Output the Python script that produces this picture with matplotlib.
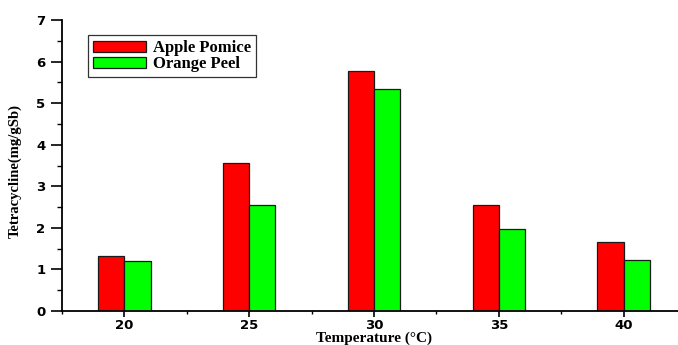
import numpy as np
import matplotlib
matplotlib.use("Agg")
import matplotlib.pyplot as plt
from matplotlib.ticker import MultipleLocator

# tetracycline uptake vs temperature
temperatures = [20, 25, 30, 35, 40]
apple_pomice = [1.33, 3.57, 5.78, 2.56, 1.67]
orange_peel = [1.21, 2.56, 5.35, 1.98, 1.23]

SERIES = [
    ("Apple Pomice", apple_pomice, "#FF0000"),
    ("Orange Peel", orange_peel, "#00FF00"),
]

BAR_W = 1.05
TICK_FONT = "DejaVu Sans"
SERIF = "Liberation Serif"


def main():
    fig = plt.figure(figsize=(6.78, 3.45), dpi=100)
    # axes runs slightly past the right edge of the canvas
    ax = fig.add_axes([62 / 678, 34 / 345, 624 / 678, 291 / 345])

    x = np.array(temperatures, dtype=float)
    offsets = [-BAR_W / 2, BAR_W / 2]
    for (label, vals, color), off in zip(SERIES, offsets):
        ax.bar(x + off, vals, width=BAR_W, color=color,
               edgecolor="#1a1a1a", linewidth=0.9, label=label, zorder=2)

    ax.set_xlim(17.5, 42.5)
    ax.set_ylim(0, 7)

    ax.set_xticks(temperatures)
    ax.xaxis.set_minor_locator(MultipleLocator(2.5))
    ax.yaxis.set_major_locator(MultipleLocator(1))
    ax.yaxis.set_minor_locator(MultipleLocator(0.5))

    for side in ("top", "right"):
        ax.spines[side].set_visible(False)
    for side in ("left", "bottom"):
        ax.spines[side].set_linewidth(1.3)
        ax.spines[side].set_color("black")

    ax.tick_params(axis="x", which="major", direction="out", length=4.3,
                   width=1.2, labelsize=9.5, pad=1.8)
    ax.tick_params(axis="x", which="minor", direction="out", length=2.3, width=1.0)
    ax.tick_params(axis="y", which="major", direction="out", length=8,
                   width=1.2, labelsize=9.5, pad=4.0)
    ax.tick_params(axis="y", which="minor", direction="out", length=3.6, width=1.0)
    for lab in ax.get_xticklabels() + ax.get_yticklabels():
        lab.set_fontfamily(TICK_FONT)
        lab.set_fontweight("heavy")

    ax.set_xlabel("Temperature (°C)", fontfamily=SERIF,
                  fontweight="bold", fontsize=11, va="bottom")
    ax.xaxis.set_label_coords(0.5, -34 / 291)
    ax.set_ylabel("Tetracycline(mg/gSb)", fontfamily=SERIF,
                  fontweight="bold", fontsize=10.5)
    ax.yaxis.set_label_coords(-40 / 624, 0.48)

    leg = ax.legend(loc="upper left", bbox_to_anchor=(88 / 678, 1 - 35 / 345),
                    bbox_transform=fig.transFigure,
                    prop={"family": SERIF, "weight": "bold", "size": 12},
                    frameon=True, fancybox=False, edgecolor="black",
                    handlelength=3.2, handleheight=0.63, handletextpad=0.4,
                    labelspacing=0.0, borderpad=0.3, borderaxespad=0)
    leg.get_frame().set_linewidth(0.9)

    fig.savefig("out.png", dpi=100)
    plt.close(fig)


if __name__ == "__main__":
    main()
